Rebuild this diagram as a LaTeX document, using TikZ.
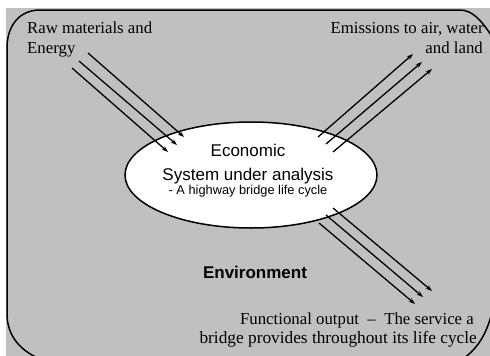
\documentclass[tikz,border=0pt]{standalone}
\usepackage{fontspec}
\setmainfont{Liberation Serif}
\setsansfont{Liberation Sans}
\usetikzlibrary{shapes.geometric,arrows.meta}
\definecolor{envgray}{HTML}{C0C0C0}
\begin{document}
\begin{tikzpicture}[x=1pt,y=-1pt,
  flow/.style={line width=1.3pt,-{Stealth[length=6.5pt,width=4.5pt]}},
  serif/.style={inner sep=0pt,font=\fontsize{16.8}{21}\selectfont\rmfamily},
  sanslbl/.style={inner sep=0pt,font=\fontsize{17}{21}\selectfont\sffamily},
  sanssmall/.style={inner sep=0pt,font=\fontsize{12.8}{15}\selectfont\sffamily},
  border/.style={line width=1.5pt}]
\useasboundingbox (0,0) rectangle (490,356);
\begin{scope}
\clip (0,0) rectangle (490,356);
\fill[envgray] (6,8) rectangle (490,356);
\draw[border] (38,358) .. controls (20,350) and (8,336) .. (7,316)
  -- (7,48) .. controls (7,25) and (20,10) .. (40,10)
  -- (460,10) .. controls (472,10) and (481,20) .. (491,35);
\draw[border] (491,316) .. controls (486,334) and (478,348) .. (464,358);
\end{scope}
% system ellipse
\node[ellipse,draw,line width=1.5pt,fill=white,minimum width=252,minimum height=106,inner sep=0pt] (sys) at (251,175) {};
\node[sanslbl,anchor=base] (t1) at (248,156) {Economic};
\node[sanslbl,anchor=base] (t2) at (248,180) {System under analysis};
\node[sanssmall,anchor=base] (t3) at (248,194) {- A highway bridge life cycle};
% labels
\node[serif,anchor=base west] (raw1) at (27,33) {Raw materials and};
\node[serif,anchor=base west] (raw2) at (27,53) {Energy};
\node[serif,anchor=base east] (em1) at (484,33) {Emissions to air, water};
\node[serif,anchor=base east] (em2) at (483,53) {and land};
\node[sanslbl,anchor=base,font=\fontsize{17}{21}\selectfont\sffamily\bfseries] (env) at (255,278) {Environment};
\node[serif,anchor=base east] (fo1) at (474,324) {Functional output\ \ –\ \ The service a};
\node[serif,anchor=base east,font=\fontsize{17.3}{21}\selectfont\rmfamily] (fo2) at (477,343) {bridge provides throughout its life cycle};
% input arrows
\coordinate (ia1) at (72,68);  \coordinate (ia2) at (168,152);
\coordinate (ib1) at (79,61);  \coordinate (ib2) at (177,145);
\coordinate (ic1) at (88,53);  \coordinate (ic2) at (184,137);
\draw[flow] (ia1) -- (ia2);
\draw[flow] (ib1) -- (ib2);
\draw[flow] (ic1) -- (ic2);
% emission arrows
\coordinate (ea1) at (318,137); \coordinate (ea2) at (413,54);
\coordinate (eb1) at (326,144); \coordinate (eb2) at (422,62);
\coordinate (ec1) at (333,152); \coordinate (ec2) at (432,69);
\draw[flow] (ea1) -- (ea2);
\draw[flow] (eb1) -- (eb2);
\draw[flow] (ec1) -- (ec2);
% functional output arrows
\coordinate (oa1) at (319,223); \coordinate (oa2) at (415,304);
\coordinate (ob1) at (326,215); \coordinate (ob2) at (423,297);
\coordinate (oc1) at (333,208); \coordinate (oc2) at (432,291);
\draw[flow] (oa1) -- (oa2);
\draw[flow] (ob1) -- (ob2);
\draw[flow] (oc1) -- (oc2);
\end{tikzpicture}
\end{document}
